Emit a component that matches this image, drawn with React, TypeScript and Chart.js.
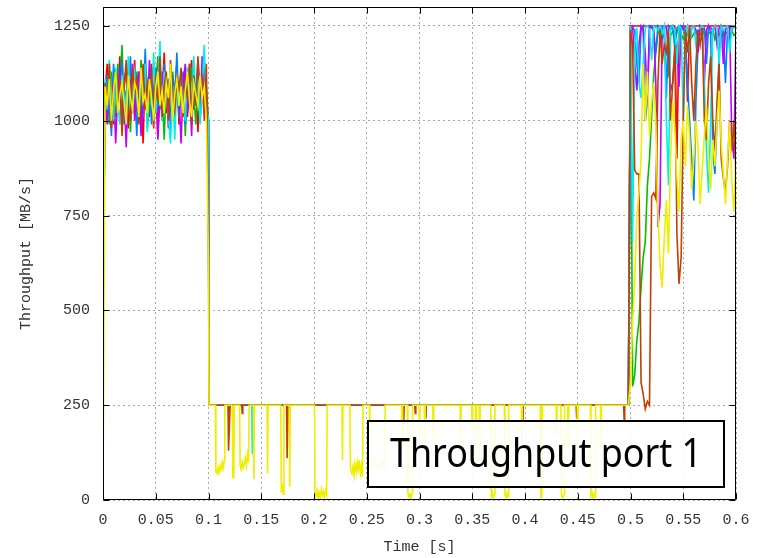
import React, { useEffect, useRef } from "react";
import { Chart, registerables } from "chart.js";

Chart.register(...registerables);

// ---- axes ----
const X_MIN = 0;
const X_MAX = 0.6;
const X_TICKS = [0, 0.05, 0.1, 0.15, 0.2, 0.25, 0.3, 0.35, 0.4, 0.45, 0.5, 0.55, 0.6];
const Y_MIN = 0;
const Y_MAX = 1300;
const Y_TICKS = [0, 250, 500, 750, 1000, 1250];
const X_TITLE = "Time [s]";
const Y_TITLE = "Throughput [MB/s]";
const LABEL_TEXT = "Throughput port 1";

// ---- series (gnuplot line types 1..7) ----
const SERIES_NAMES = ["flow 1", "flow 2", "flow 3", "flow 4", "flow 5", "flow 6", "flow 7"];
const SERIES_COLORS = ["#ff0000", "#00c000", "#0080ff", "#c000ff", "#00eeee", "#c04000", "#eeee00"];

// startup phase: one sample every 2 ms, t = 0 .. 0.1 s
const START_T0 = 0;
const START_DT = 0.002;
const startRed = [640, 1080, 1150, 1020, 1100, 990, 1130, 1060, 1170, 1010,
  1090, 1140, 980, 1110, 1050, 1160, 1000, 1120, 1070, 940,
  1130, 1080, 1010, 1150, 1040, 1100, 960, 1120, 1060, 1180,
  1020, 1090, 1130, 1000, 1070, 1150, 990, 1110, 1050, 1140,
  1010, 1080, 1160, 1030, 1100, 970, 1120, 1060, 1140, 1080,
  1000];
const startGreen = [560, 1040, 1100, 990, 1130, 1060, 1010, 1150, 1080, 1200,
  1020, 1070, 1120, 970, 1090, 1040, 1130, 1000, 1160, 1060,
  1110, 980, 1050, 1140, 1020, 1090, 1170, 1030, 1080, 950,
  1110, 1060, 1000, 1130, 1070, 1150, 1010, 1080, 1120, 960,
  1100, 1040, 1140, 1070, 990, 1110, 1050, 1130, 1020, 1090,
  960];
const startBlue = [600, 1000, 1120, 1060, 960, 1150, 1090, 1030, 1110, 1160,
  990, 1080, 1040, 1170, 1020, 1100, 960, 1130, 1070, 1010,
  1190, 1050, 1120, 990, 1080, 1140, 1030, 1090, 1000, 1150,
  1060, 1110, 970, 1120, 1040, 1180, 1020, 1090, 1130, 990,
  1070, 1150, 1010, 1100, 1060, 1160, 1000, 1080, 1120, 1040,
  990];
const startMagenta = [580, 1060, 990, 1120, 1040, 1100, 940, 1080, 1140, 1010,
  1070, 930, 1110, 1050, 1150, 1000, 1090, 1130, 960, 1060,
  1120, 1020, 1160, 1080, 1000, 1110, 950, 1070, 1130, 1040,
  1100, 980, 1140, 1060, 1010, 1120, 1070, 940, 1100, 1150,
  1030, 1090, 960, 1130, 1050, 1110, 1000, 1170, 1070, 1020,
  1000];
const startCyan = [715, 1110, 1030, 1160, 1070, 1000, 1140, 1050, 990, 1120,
  1080, 1030, 1170, 1010, 1090, 1130, 1060, 1000, 1110, 1050,
  1150, 970, 1100, 1040, 1180, 1020, 1080, 1210, 1000, 1130,
  1070, 1010, 940, 1090, 950, 1110, 1040, 1120, 1060, 1000,
  1140, 1080, 1020, 1170, 1050, 1110, 990, 1090, 1200, 1030,
  1010];
const startBrown = [690, 1100, 1050, 1150, 980, 1080, 1130, 1020, 1110, 960,
  1090, 1160, 1040, 1000, 1140, 1070, 1120, 990, 1080, 1150,
  1030, 1100, 1060, 1140, 980, 1120, 1050, 1170, 1010, 1090,
  1130, 1000, 1160, 1070, 1030, 1110, 1080, 1140, 1010, 1100,
  1060, 1150, 990, 1120, 1040, 1170, 1080, 1110, 1000, 1150,
  690];
const startYellow = [0, 1090, 1040, 1110, 1000, 1080, 1130, 1020, 1070, 1100,
  1050, 990, 1120, 1060, 1030, 1100, 1080, 1010, 1140, 1050,
  1070, 1020, 1110, 1060, 1000, 1090, 1130, 1040, 1080, 1020,
  1100, 1060, 1150, 1000, 1070, 1110, 1040, 1090, 1020, 1080,
  1130, 1050, 1010, 1100, 1070, 1040, 1120, 1060, 1090, 1000,
  620];

// congested phase: [time s, MB/s] pairs, flat at 250 apart from the drops
const midRed = [[0.1005, 250]];
const midGreen = [[0.1005, 250]];
const midBlue = [[0.1005, 250]];
const midMagenta = [[0.1005, 250]];
const midCyan = [[0.1005, 250], [0.141, 250], [0.1415, 124], [0.142, 250]];
const midBrown = [[0.1005, 250],
  [0.1185, 250], [0.119, 130], [0.1205, 250],
  [0.1315, 250], [0.132, 228], [0.1325, 250],
  [0.174, 250], [0.1745, 110], [0.1755, 250],
  [0.2845, 250], [0.285, 200], [0.2855, 250],
  [0.2955, 250], [0.296, 228], [0.2965, 250],
  [0.3055, 250], [0.306, 215], [0.3065, 250],
  [0.3975, 250], [0.398, 205], [0.3985, 250],
  [0.4485, 250], [0.449, 215], [0.4495, 250],
  [0.4935, 250], [0.494, 210], [0.4945, 250]];
const midYellow = [[0.1005, 250],
  [0.1065, 250], [0.107, 75], [0.108, 70], [0.109, 85], [0.11, 72], [0.111, 90], [0.112, 80], [0.113, 100], [0.114, 85], [0.115, 105], [0.1155, 250],
  [0.1225, 250], [0.123, 60], [0.124, 58], [0.1245, 250],
  [0.1295, 250], [0.13, 90], [0.131, 80], [0.132, 100], [0.133, 85], [0.134, 95], [0.135, 110], [0.136, 90], [0.137, 120], [0.138, 100], [0.1385, 250],
  [0.1425, 250], [0.143, 55], [0.1435, 250],
  [0.1555, 250], [0.156, 70], [0.1565, 250],
  [0.1685, 250], [0.169, 20], [0.17, 35], [0.171, 15], [0.1715, 250],
  [0.1765, 250], [0.177, 35], [0.1775, 250],
  [0.2005, 250], [0.201, 20], [0.202, 10], [0.203, 25], [0.204, 5], [0.205, 20], [0.206, 8], [0.207, 28], [0.208, 12], [0.209, 22], [0.21, 6], [0.211, 25], [0.212, 15], [0.2125, 250],
  [0.2265, 250], [0.227, 105], [0.2275, 250],
  [0.234, 250], [0.2345, 85], [0.236, 70], [0.237, 90], [0.238, 65], [0.239, 95], [0.24, 75], [0.241, 100], [0.242, 80], [0.243, 105], [0.244, 70], [0.245, 90], [0.246, 60], [0.2465, 250],
  [0.2525, 250], [0.253, 110], [0.255, 90], [0.257, 100], [0.259, 80], [0.261, 95], [0.263, 85], [0.265, 105], [0.267, 90], [0.2675, 250],
  [0.283, 250], [0.2835, 150], [0.284, 250],
  [0.2885, 250], [0.289, 20], [0.29, 8], [0.291, 15], [0.292, 5], [0.293, 18], [0.2935, 250],
  [0.2995, 250], [0.3, 150], [0.3005, 250],
  [0.3045, 250], [0.305, 130], [0.3055, 250],
  [0.3125, 250], [0.313, 160], [0.3135, 250],
  [0.3385, 250], [0.339, 120], [0.3395, 250],
  [0.3495, 250], [0.35, 180], [0.3505, 250],
  [0.353, 250], [0.3535, 140], [0.354, 250],
  [0.3565, 250], [0.357, 100], [0.3575, 250],
  [0.3675, 250], [0.368, 10], [0.369, 20], [0.37, 5], [0.371, 15], [0.3715, 250],
  [0.3805, 250], [0.381, 12], [0.382, 6], [0.383, 18], [0.384, 8], [0.3845, 250],
  [0.3965, 250], [0.397, 150], [0.3975, 250],
  [0.4145, 250], [0.415, 5], [0.416, 12], [0.4165, 250],
  [0.4295, 250], [0.43, 170], [0.4305, 250],
  [0.434, 250], [0.4345, 12], [0.436, 5], [0.437, 15], [0.4375, 250],
  [0.4405, 250], [0.441, 130], [0.4415, 250],
  [0.4495, 250], [0.45, 160], [0.4505, 250],
  [0.462, 250], [0.4625, 10], [0.4635, 20], [0.4645, 5], [0.4655, 15], [0.4665, 8], [0.467, 250],
  [0.4715, 250], [0.472, 140], [0.4725, 250]];

// recovery phase: one sample every 2 ms, t = 0.498 .. 0.6 s
const END_T0 = 0.498;
const END_DT = 0.002;
const endRed = [250, 1250, 1250, 1250, 1250, 1250, 1250, 1250, 1250, 1250,
  1250, 1250, 1250, 1250, 1250, 1250, 1250, 1250, 1250, 1250,
  1250, 1250, 1250, 900, 1250, 1250, 1250, 1250, 1050, 1250,
  1250, 1250, 1250, 1250, 1250, 1250, 1250, 1250, 1250, 1250,
  1250, 1250, 1250, 1250, 1250, 1250, 1250, 1250, 1250, 1250,
  1250, 1250];
const endGreen = [250, 1245, 300, 330, 420, 470, 560, 640, 680, 830,
  900, 1010, 1120, 1180, 1230, 1240, 1215, 1230, 1110, 1120,
  1225, 1235, 1220, 1240, 1225, 1230, 1215, 1235, 1225, 1240,
  1220, 1230, 1235, 1215, 1230, 1225, 1240, 1220, 1235, 1228,
  1240, 1215, 1232, 1225, 1240, 1220, 1235, 1230, 1215, 1238,
  1225, 1230];
const endBlue = [250, 1250, 1245, 1240, 1150, 1100, 1240, 1250, 1000, 1050,
  1245, 1250, 1235, 1180, 1250, 1240, 1245, 1250, 1060, 1250,
  1240, 1250, 1190, 1245, 1250, 1235, 1250, 1210, 1100, 1000,
  900, 790, 1050, 1200, 1250, 1240, 1245, 1150, 1250, 1235,
  920, 860, 1000, 1180, 1250, 1240, 1100, 1245, 1250, 1240,
  1250, 1245];
const endMagenta = [250, 1250, 1250, 1150, 1080, 1200, 1250, 1240, 1180, 1050,
  1250, 1245, 1240, 1100, 720, 780, 1240, 1250, 1245, 1190,
  1080, 1100, 1180, 1200, 1090, 1250, 1245, 1240, 1250, 1200,
  1245, 1250, 1240, 1180, 1250, 1245, 1100, 1240, 1250, 1245,
  1240, 1250, 1200, 1245, 1250, 1150, 1240, 1250, 1245, 960,
  900, 1240];
const endCyan = [250, 1250, 680, 1200, 1245, 1100, 1060, 1150, 1245, 1250,
  1240, 1160, 1250, 1245, 1240, 1250, 1230, 1250, 1000, 830,
  1245, 1250, 1240, 1150, 1250, 1245, 1000, 1240, 1250, 1180,
  1245, 1250, 1200, 1240, 1245, 1250, 1100, 920, 810, 1000,
  1240, 1250, 1245, 1150, 1250, 1240, 1245, 1250, 1180, 1245,
  1250, 1240];
const endBrown = [250, 1240, 1200, 870, 860, 860, 310, 280, 240, 260,
  250, 800, 810, 795, 1100, 1240, 1150, 1200, 1180, 1240,
  1000, 1100, 1200, 700, 570, 640, 1000, 1240, 1180, 1245,
  1100, 1000, 1150, 1240, 1200, 1245, 1000, 950, 1100, 1170,
  1000, 920, 1050, 1150, 900, 850, 810, 880, 1000, 920,
  1000, 860];
const endYellow = [250, 310, 470, 580, 750, 810, 900, 1150, 1000, 1130,
  960, 1050, 1100, 1000, 760, 620, 560, 690, 790, 650,
  900, 1050, 980, 850, 760, 950, 1000, 880, 1040, 960,
  820, 900, 1000, 930, 780, 870, 960, 1040, 900, 820,
  950, 880, 1000, 1080, 940, 860, 780, 900, 1000, 840,
  760, 920];

const START = [startRed, startGreen, startBlue, startMagenta, startCyan, startBrown, startYellow];
const MID = [midRed, midGreen, midBlue, midMagenta, midCyan, midBrown, midYellow];
const END = [endRed, endGreen, endBlue, endMagenta, endCyan, endBrown, endYellow];

function buildSeries(i: number) {
  const pts: { x: number; y: number }[] = [];
  START[i].forEach((v, k) => pts.push({ x: START_T0 + k * START_DT, y: v }));
  MID[i].forEach(([t, v]) => pts.push({ x: t, y: v }));
  END[i].forEach((v, k) => pts.push({ x: +(END_T0 + k * END_DT).toFixed(4), y: v }));
  return pts;
}

const TICK_FONT = { family: "'Liberation Mono', 'DejaVu Sans Mono', monospace", size: 15 };
const TEXT_COLOR = "#333333";
const GRID_COLOR = "#a8a8a8";

// border, mirrored tick marks and the boxed label on top of the data
const framePlugin = {
  id: "gnuplotFrame",
  afterDatasetsDraw(chart: any) {
    const { ctx, chartArea: a, scales } = chart;
    const L = Math.round(a.left) + 0.5;
    const R = Math.round(a.right) - 0.5;
    const T = Math.round(a.top) + 0.5;
    const B = Math.round(a.bottom) - 0.5;
    ctx.save();
    ctx.strokeStyle = "#000";
    ctx.lineWidth = 1;
    ctx.setLineDash([]);
    ctx.beginPath();
    ctx.rect(L, T, R - L, B - T);
    const tl = 6;
    scales.x.ticks.forEach((t: any) => {
      const px = Math.round(scales.x.getPixelForValue(t.value)) + 0.5;
      ctx.moveTo(px, B); ctx.lineTo(px, B - tl);
      ctx.moveTo(px, T); ctx.lineTo(px, T + tl);
    });
    scales.y.ticks.forEach((t: any) => {
      const py = Math.round(scales.y.getPixelForValue(t.value)) + 0.5;
      ctx.moveTo(L, py); ctx.lineTo(L + tl, py);
      ctx.moveTo(R, py); ctx.lineTo(R - tl, py);
    });
    ctx.stroke();

    // label box
    const bx = 368, by = 421, bw = 356, bh = 66;
    ctx.fillStyle = "rgba(255,255,255,0.88)";
    ctx.fillRect(bx, by, bw, bh);
    ctx.lineWidth = 2;
    ctx.strokeRect(bx, by, bw, bh);
    ctx.font = "40px 'Noto Sans', 'DejaVu Sans', sans-serif";
    const w = ctx.measureText(LABEL_TEXT).width;
    const sx = 312 / w;
    ctx.translate(bx + bw / 2, 467);
    ctx.scale(sx, 1);
    ctx.fillStyle = "#000";
    ctx.textAlign = "center";
    ctx.textBaseline = "alphabetic";
    ctx.fillText(LABEL_TEXT, 0, 0);
    ctx.restore();
  },
};

export default function App() {
  const ref = useRef<HTMLCanvasElement>(null);

  useEffect(() => {
    const n = SERIES_NAMES.length;
    const datasets = SERIES_NAMES.map((name, i) => ({
      label: name,
      data: buildSeries(i),
      borderColor: SERIES_COLORS[i],
      backgroundColor: SERIES_COLORS[i],
      borderWidth: 1.6,
      pointRadius: 0,
      tension: 0,
      fill: false,
      order: n - 1 - i,
    }));

    const chart = new Chart(ref.current!, {
      type: "line",
      data: { datasets },
      plugins: [framePlugin],
      options: {
        responsive: false,
        animation: false,
        events: [],
        layout: { padding: { top: 7, right: 30, bottom: 0, left: 0 } },
        plugins: { legend: { display: false }, tooltip: { enabled: false } },
        scales: {
          x: {
            type: "linear",
            min: X_MIN,
            max: X_MAX,
            afterFit: (s: any) => { s.height = 58; s.paddingLeft = 0; s.paddingRight = 0; },
            afterBuildTicks: (s: any) => { s.ticks = X_TICKS.map((v) => ({ value: v })); },
            ticks: {
              padding: 11,
              maxRotation: 0,
              autoSkip: false,
              color: TEXT_COLOR,
              font: TICK_FONT,
              callback: (v: any) => String(+Number(v).toFixed(2)),
            },
            grid: { color: GRID_COLOR, lineWidth: 1, drawTicks: false },
            border: { display: false, dash: [2, 3] },
            title: { display: true, text: X_TITLE, color: TEXT_COLOR, font: TICK_FONT, padding: { top: 0, bottom: 2 } },
          },
          y: {
            type: "linear",
            min: Y_MIN,
            max: Y_MAX,
            afterFit: (s: any) => { s.width = 103; s.paddingTop = 0; s.paddingBottom = 0; },
            afterBuildTicks: (s: any) => { s.ticks = Y_TICKS.map((v) => ({ value: v })); },
            ticks: {
              padding: 13,
              autoSkip: false,
              color: TEXT_COLOR,
              font: TICK_FONT,
              callback: (v: any) => String(v),
            },
            grid: { color: GRID_COLOR, lineWidth: 1, drawTicks: false },
            border: { display: false, dash: [2, 3] },
            title: { display: true, text: Y_TITLE, color: TEXT_COLOR, font: TICK_FONT, padding: { top: 17, bottom: 0 } },
          },
        },
      },
    } as any);
    return () => chart.destroy();
  }, []);

  return (
    <div style={{ position: "fixed", left: 0, top: 0, width: 766, height: 558, background: "#fff" }}>
      <canvas ref={ref} width={766} height={558} style={{ display: "block" }} />
    </div>
  );
}
